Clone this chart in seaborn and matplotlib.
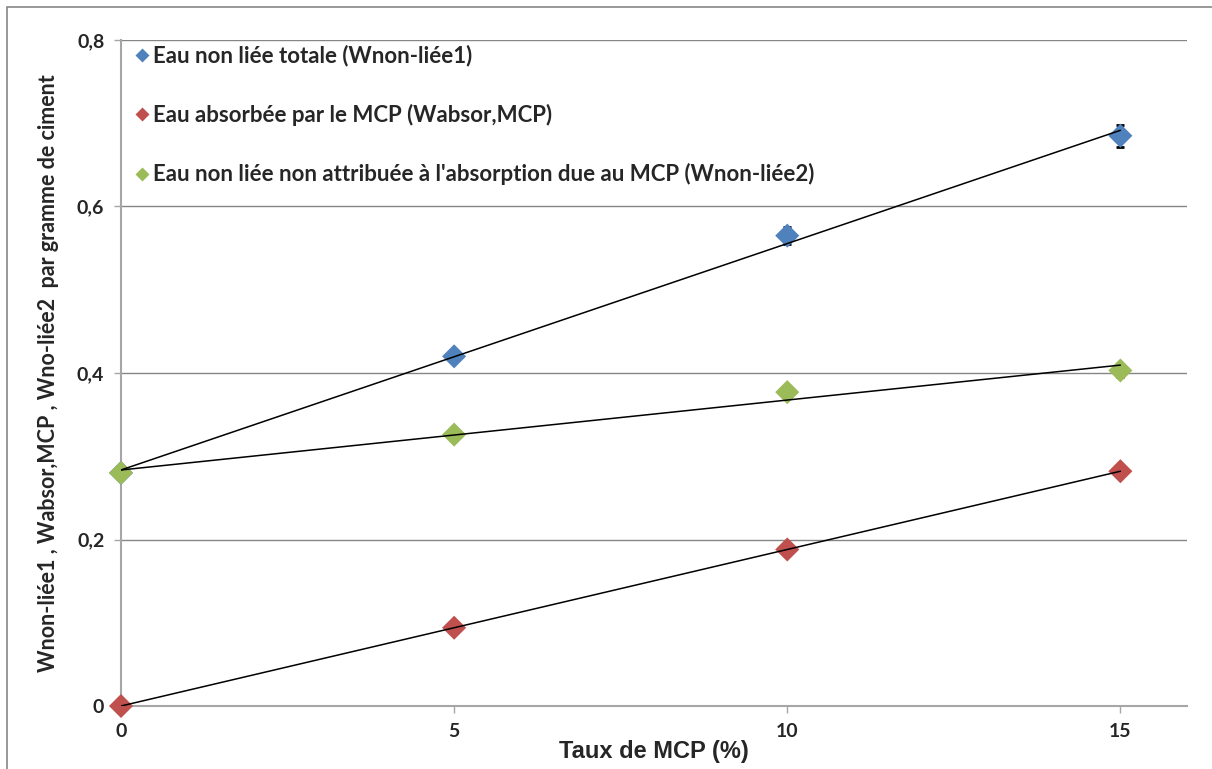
import matplotlib
matplotlib.use("Agg")
import matplotlib.pyplot as plt
import matplotlib.patches as mpatches
from matplotlib.ticker import FuncFormatter
import numpy as np
import pandas as pd
import seaborn as sns

# Data
taux_mcp = [0, 5, 10, 15]
w_non_liee1 = [0.280, 0.420, 0.565, 0.685]
w_absor_mcp = [0.000, 0.094, 0.188, 0.282]
w_non_liee2 = [0.280, 0.326, 0.377, 0.403]
err_non_liee1 = [0.0, 0.004, 0.010, 0.013]
err_non_liee2 = [0.0, 0.0, 0.004, 0.008]

labels = [
    "Eau non liée totale (Wnon-liée1)",
    "Eau absorbée par le MCP (Wabsor,MCP)",
    "Eau non liée non attribuée à l'absorption due au MCP (Wnon-liée2)",
]
colors = ["#4F81BD", "#C0504D", "#9BBB59"]

df = pd.DataFrame({
    "x": taux_mcp * 3,
    "y": w_non_liee1 + w_absor_mcp + w_non_liee2,
    "serie": [labels[0]] * 4 + [labels[1]] * 4 + [labels[2]] * 4,
})

sns.set_style("white")
plt.rcParams["font.family"] = ["Lato", "DejaVu Sans"]

fig = plt.figure(figsize=(12.12, 7.69), dpi=100)
ax = fig.add_axes([121 / 1212, 1 - 706 / 769, (1187 - 121) / 1212, (706 - 40) / 769])

# outer chart border
fig.patches.append(mpatches.Rectangle((7 / 1212, -0.05), 1.2, 1 - 7 / 769 + 0.05,
                                      transform=fig.transFigure, fill=False,
                                      edgecolor="#868686", linewidth=1.2))

# error bars
ax.errorbar(taux_mcp, w_non_liee1, yerr=err_non_liee1, fmt="none", ecolor="black",
            elinewidth=1.2, capsize=3, capthick=2, zorder=2)
ax.errorbar(taux_mcp, w_non_liee2, yerr=err_non_liee2, fmt="none", ecolor="black",
            elinewidth=1.2, capsize=3, capthick=2, zorder=2)

# points
sns.scatterplot(data=df, x="x", y="y", hue="serie", palette=colors, marker="D",
                s=150, edgecolor="none", ax=ax, zorder=3, clip_on=False)

# linear trend lines
for vals in [w_non_liee1, w_absor_mcp, w_non_liee2]:
    sns.regplot(x=taux_mcp, y=vals, scatter=False, ci=None, truncate=True, ax=ax,
                line_kws={"color": "black", "linewidth": 1.1, "zorder": 4})

ax.set_xlim(0, 16)
ax.set_ylim(0, 0.8)
ax.set_xticks([0, 5, 10, 15])
ax.set_yticks([0, 0.2, 0.4, 0.6, 0.8])
ax.yaxis.set_major_formatter(FuncFormatter(lambda v, p: "0" if v == 0 else f"{v:.1f}".replace(".", ",")))

ax.grid(axis="y", color="#868686", linewidth=1)
ax.grid(axis="x", visible=False)
ax.set_axisbelow(True)
for s in ["top", "right"]:
    ax.spines[s].set_visible(False)
for s in ["left", "bottom"]:
    ax.spines[s].set_color("#A6A6A6")
    ax.spines[s].set_linewidth(1.5)

ax.tick_params(axis="both", which="major", direction="out", length=5, width=1,
               color="#A6A6A6", labelsize=14, pad=7)
ax.tick_params(axis="x", bottom=True)
ax.tick_params(axis="y", left=True)
for t in ax.get_xticklabels() + ax.get_yticklabels():
    t.set_fontweight("bold")

ax.set_xlabel("Taux de MCP (%)", fontsize=17, fontweight="bold",
              family=["Liberation Sans", "DejaVu Sans"], labelpad=0)
ax.set_ylabel("Wnon-liée1 , Wabsor,MCP , Wno-liée2  par gramme de ciment",
              fontsize=15.5, fontweight="bold", labelpad=13)

leg = ax.legend(loc="upper left", bbox_to_anchor=(0.0, 1.0075), frameon=False,
                fontsize=16, markerscale=0.55, handletextpad=0.0,
                labelspacing=1.68, borderaxespad=0.05, handlelength=1.0)
for t in leg.get_texts():
    t.set_fontweight("bold")

fig.savefig("out.png", dpi=100)
